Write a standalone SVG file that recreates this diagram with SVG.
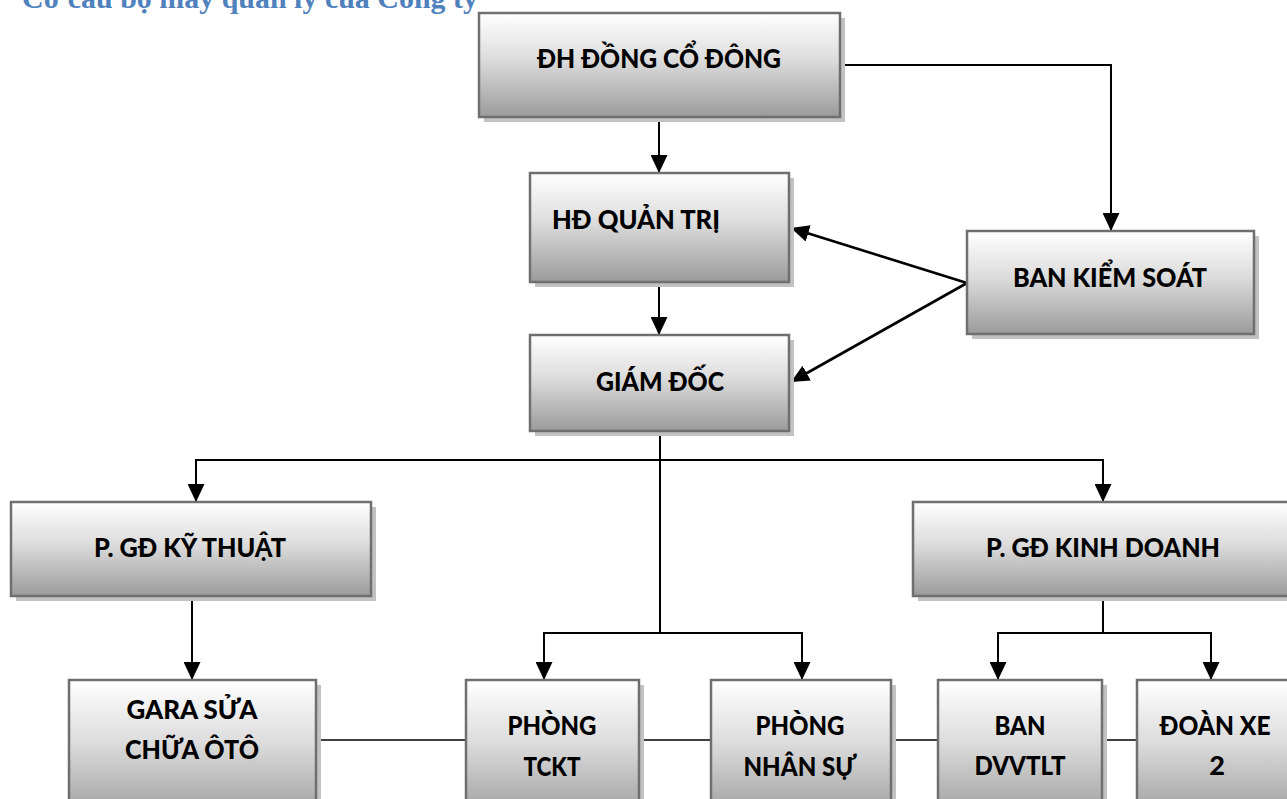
<svg xmlns="http://www.w3.org/2000/svg" width="1287" height="799" viewBox="0 0 1287 799">
<defs>
<linearGradient id="g" x1="0" y1="0" x2="0" y2="1">
<stop offset="0" stop-color="#ffffff"/>
<stop offset="0.45" stop-color="#dcdcdc"/>
<stop offset="1" stop-color="#9b9b9b"/>
</linearGradient>
<marker id="ah" markerUnits="userSpaceOnUse" markerWidth="18" markerHeight="17" viewBox="0 0 18 17" refX="18" refY="8.5" orient="auto">
<path d="M0,0 L18,8.5 L0,17 z" fill="#000"/>
</marker>
</defs>
<style>
.sh{fill:#c2c2c2}
.bx{fill:url(#g);stroke:#6f6f6f;stroke-width:2.5}
.t{font-family:Lato,"Open Sans","Liberation Sans",sans-serif;font-weight:900;font-size:27px;fill:#000;text-anchor:middle}
.c{fill:none;stroke:#000;stroke-width:2}
.a{fill:none;stroke:#000;stroke-width:2;marker-end:url(#ah)}
.d{fill:none;stroke:#000;stroke-width:2.6;marker-end:url(#ah)}
.l{fill:none;stroke:#000;stroke-width:1.6}
.title{font-family:"Liberation Serif","Times New Roman",serif;font-weight:bold;font-size:30px;fill:#4F81BD}
</style>
<rect width="1287" height="799" fill="#fff"/>
<text class="title" x="22" y="8" textLength="456" lengthAdjust="spacingAndGlyphs">Cơ cấu bộ máy quản lý của Công ty</text>

<g id="connectors">
<path class="a" d="M840,65 H1111 V231"/>
<path class="a" d="M659,117 V173"/>
<path class="a" d="M659,282 V335"/>
<path class="d" d="M967,283 L791,228"/>
<path class="d" d="M967,283 L791,382"/>
<path class="c" d="M660,432 V633"/>
<path class="a" d="M660,460 H196 V502"/>
<path class="a" d="M660,460 H1103 V502"/>
<path class="a" d="M192,596 V680"/>
<path class="a" d="M660,633 H544 V680"/>
<path class="a" d="M660,633 H802 V680"/>
<path class="c" d="M1103,595 V633"/>
<path class="a" d="M1103,633 H998 V680"/>
<path class="a" d="M1103,633 H1211 V680"/>
<path class="l" d="M316,740 H466"/>
<path class="l" d="M639,740 H711"/>
<path class="l" d="M891,740 H938"/>
<path class="l" d="M1102,740 H1137"/>
</g>

<g id="dh">
<rect class="sh" x="484" y="18" width="361" height="104"/>
<rect class="bx" x="479" y="13" width="361" height="104"/>
<text class="t" x="659" y="68" textLength="244" lengthAdjust="spacingAndGlyphs">ĐH ĐỒNG CỔ ĐÔNG</text>
</g>
<g id="hd">
<rect class="sh" x="535" y="178" width="259" height="109"/>
<rect class="bx" x="530" y="173" width="259" height="109"/>
<text class="t" x="552" y="229" style="text-anchor:start" textLength="168" lengthAdjust="spacingAndGlyphs">HĐ QUẢN TRỊ</text>
</g>
<g id="gd">
<rect class="sh" x="535" y="340" width="259" height="96"/>
<rect class="bx" x="530" y="335" width="259" height="96"/>
<text class="t" x="660" y="391" textLength="128" lengthAdjust="spacingAndGlyphs">GIÁM ĐỐC</text>
</g>
<g id="bks">
<rect class="sh" x="972" y="236" width="287" height="103"/>
<rect class="bx" x="967" y="231" width="287" height="103"/>
<text class="t" x="1110" y="287" textLength="194" lengthAdjust="spacingAndGlyphs">BAN KIỂM SOÁT</text>
</g>
<g id="kt">
<rect class="sh" x="16" y="507" width="360" height="94"/>
<rect class="bx" x="11" y="502" width="360" height="94"/>
<text class="t" x="190" y="557" textLength="192" lengthAdjust="spacingAndGlyphs">P. GĐ KỸ THUẬT</text>
</g>
<g id="kd">
<rect class="sh" x="918" y="507" width="380" height="94"/>
<rect class="bx" x="913" y="502" width="380" height="94"/>
<text class="t" x="1103" y="557" textLength="234" lengthAdjust="spacingAndGlyphs">P. GĐ KINH DOANH</text>
</g>
<g id="gara">
<rect class="sh" x="74" y="685" width="247" height="140"/>
<rect class="bx" x="69" y="680" width="247" height="140"/>
<text class="t" x="192" y="719" textLength="131" lengthAdjust="spacingAndGlyphs">GARA SỬA</text>
<text class="t" x="192" y="759" textLength="134" lengthAdjust="spacingAndGlyphs">CHỮA ÔTÔ</text>
</g>
<g id="tckt">
<rect class="sh" x="471" y="685" width="173" height="140"/>
<rect class="bx" x="466" y="680" width="173" height="140"/>
<text class="t" x="552" y="735" textLength="89" lengthAdjust="spacingAndGlyphs">PHÒNG</text>
<text class="t" x="552" y="776" textLength="57" lengthAdjust="spacingAndGlyphs">TCKT</text>
</g>
<g id="ns">
<rect class="sh" x="716" y="685" width="180" height="140"/>
<rect class="bx" x="711" y="680" width="180" height="140"/>
<text class="t" x="800" y="735" textLength="89" lengthAdjust="spacingAndGlyphs">PHÒNG</text>
<text class="t" x="800" y="776" textLength="113" lengthAdjust="spacingAndGlyphs">NHÂN SỰ</text>
</g>
<g id="dvvtlt">
<rect class="sh" x="943" y="685" width="164" height="140"/>
<rect class="bx" x="938" y="680" width="164" height="140"/>
<text class="t" x="1020" y="735" textLength="51" lengthAdjust="spacingAndGlyphs">BAN</text>
<text class="t" x="1020" y="775" textLength="91" lengthAdjust="spacingAndGlyphs">DVVTLT</text>
</g>
<g id="doanxe">
<rect class="sh" x="1142" y="685" width="170" height="140"/>
<rect class="bx" x="1137" y="680" width="170" height="140"/>
<text class="t" x="1215" y="735" textLength="111" lengthAdjust="spacingAndGlyphs">ĐOÀN XE</text>
<text class="t" x="1217" y="775">2</text>
</g>
</svg>
